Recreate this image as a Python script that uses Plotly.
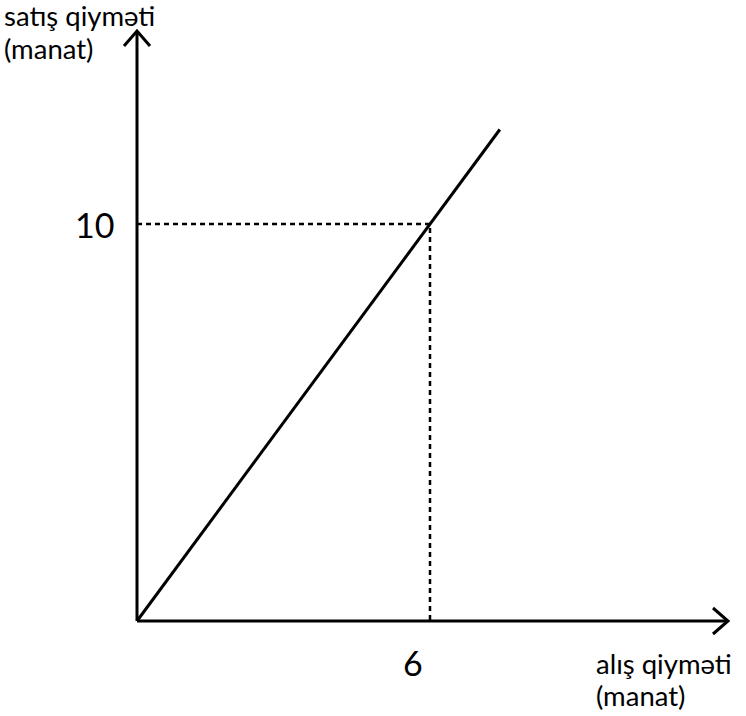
import plotly.graph_objects as go

# Data
purchase_price = [0, 7.43]
sale_price = [0, 12.38]
marked_x = 6
marked_y = 10
x_ticks = [6]
y_ticks = [10]
x_label = ["alış qiyməti", "(manat)"]
y_label = ["satış qiyməti", "(manat)"]

W, H = 746, 716
OX, OY = 137, 621          # pixel origin
SX = (430 - 137) / 6.0     # px per x unit
SY = (621 - 224) / 10.0    # px per y unit

x0 = -OX / SX
x1 = (W - OX) / SX
y1 = OY / SY
y0 = -(H - OY) / SY

def px(u):  # pixel -> data x
    return (u - OX) / SX

def py(v):  # pixel -> data y
    return (OY - v) / SY

def ppx(u):  # pixel -> paper x
    return u / W

def ppy(v):  # pixel -> paper y
    return 1 - v / H

fig = go.Figure()

# main line
fig.add_trace(go.Scatter(x=purchase_price, y=sale_price, mode="lines",
                         line=dict(color="black", width=3), hoverinfo="skip"))

# dashed guides
fig.add_trace(go.Scatter(x=[0, marked_x, marked_x], y=[marked_y, marked_y, 0], mode="lines",
                         line=dict(color="black", width=2.5, dash="5px,4px"), hoverinfo="skip"))

shapes = []
# axes
shapes.append(dict(type="line", xref="x", yref="y", x0=0, y0=0, x1=px(727), y1=0,
                   line=dict(color="black", width=3)))
shapes.append(dict(type="line", xref="x", yref="y", x0=0, y0=0, x1=0, y1=py(32),
                   line=dict(color="black", width=3)))
# arrowheads (open chevrons)
shapes.append(dict(type="path", xref="x", yref="y",
                   path=f"M {px(713)},{py(608)} L {px(728)},{py(621)} L {px(713)},{py(634)}",
                   line=dict(color="black", width=3)))
shapes.append(dict(type="path", xref="x", yref="y",
                   path=f"M {px(124)},{py(46)} L {px(137)},{py(31)} L {px(150)},{py(46)}",
                   line=dict(color="black", width=3)))

FONT = "Lato"
LBL = 27.5
NUM = 34
annotations = []
annotations.append(dict(x=px(116), y=marked_y, xref="x", yref="y", text=str(y_ticks[0]),
                        showarrow=False, xanchor="right", yanchor="middle",
                        font=dict(family=FONT, size=NUM, color="black")))
annotations.append(dict(x=px(413), y=py(662), xref="x", yref="y", text=str(x_ticks[0]),
                        showarrow=False, xanchor="center", yanchor="middle",
                        font=dict(family=FONT, size=NUM, color="black")))
annotations.append(dict(x=ppx(3), y=ppy(16), xref="paper", yref="paper", text=y_label[0],
                        showarrow=False, xanchor="left", yanchor="middle", borderpad=0,
                        font=dict(family=FONT, size=LBL, color="black")))
annotations.append(dict(x=ppx(3), y=ppy(48), xref="paper", yref="paper", text=y_label[1],
                        showarrow=False, xanchor="left", yanchor="middle", borderpad=0,
                        font=dict(family=FONT, size=LBL, color="black")))
annotations.append(dict(x=ppx(595), y=ppy(663), xref="paper", yref="paper", text=x_label[0],
                        showarrow=False, xanchor="left", yanchor="middle", borderpad=0,
                        font=dict(family=FONT, size=LBL, color="black")))
annotations.append(dict(x=ppx(595), y=ppy(695), xref="paper", yref="paper", text=x_label[1],
                        showarrow=False, xanchor="left", yanchor="middle", borderpad=0,
                        font=dict(family=FONT, size=LBL, color="black")))

fig.update_layout(
    width=W, height=H,
    margin=dict(l=0, r=0, t=0, b=0),
    paper_bgcolor="white", plot_bgcolor="white",
    showlegend=False,
    hovermode=False,
    xaxis=dict(range=[x0, x1], visible=False, fixedrange=True),
    yaxis=dict(range=[y0, y1], visible=False, fixedrange=True),
    shapes=shapes,
    annotations=annotations,
)

fig.write_html("out.html", config={"displayModeBar": False, "staticPlot": True},
               post_script="document.body.style.margin='0px';document.body.style.overflow='hidden';")
